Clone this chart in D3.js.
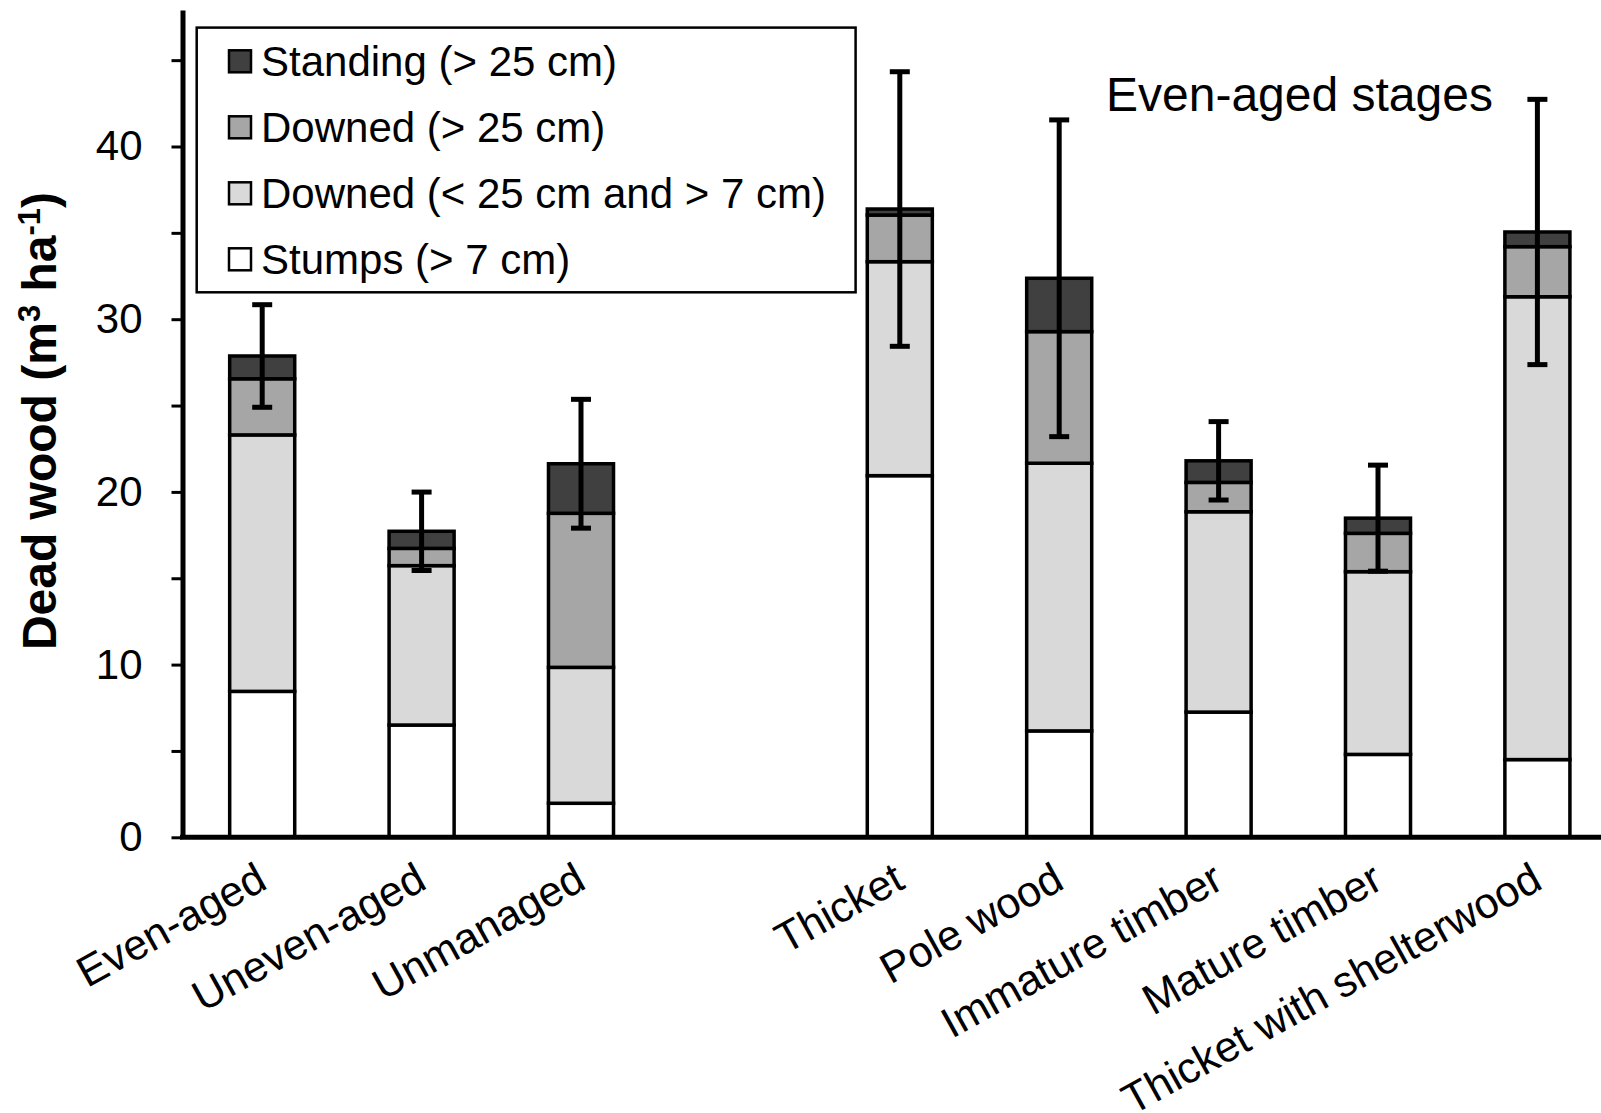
<!DOCTYPE html>
<html>
<head>
<meta charset="utf-8">
<script src="https://cdn.jsdelivr.net/npm/d3@7"></script>
<style>
  html, body { margin: 0; padding: 0; background: #fff; }
  svg { display: block; font-family: "Liberation Sans", Arial, sans-serif; }
</style>
</head>
<body>
<svg id="chart" width="1601" height="1113"></svg>
<script>
// ---- data ----
const categories = ["Even-aged", "Uneven-aged", "Unmanaged", "Thicket", "Pole wood", "Immature timber", "Mature timber", "Thicket with shelterwood"];
const stumps      = [8.45, 6.5, 1.97, 20.94, 6.16, 7.25, 4.8, 4.5];
const downedSmall = [14.85, 9.23, 7.87, 12.39, 15.5, 11.6, 10.58, 26.8];
const downedLarge = [3.25, 1.0, 8.92, 2.7, 7.62, 1.7, 2.22, 2.9];
const standing    = [1.32, 0.99, 2.87, 0.35, 3.09, 1.25, 0.88, 0.85];
const errors      = [2.97, 2.27, 3.73, 7.95, 9.17, 2.27, 3.07, 7.68];
const seriesNames = ["Standing (> 25 cm)", "Downed (> 25 cm)", "Downed (< 25 cm and > 7 cm)", "Stumps (> 7 cm)"];
const yTicks = [0, 5, 10, 15, 20, 25, 30, 35, 40, 45];
const yMax = 47.9;
const groupLabel = "Even-aged stages";

// ---- layout ----
const svg = d3.select("#chart");
const axisX = 182.5, axisY = 837.3;
const slots = [...categories.slice(0, 3), "__gap__", ...categories.slice(3)];
const x = d3.scaleBand().domain(slots).range([axisX, axisX + 9 * 159.4]).paddingInner(0.592).paddingOuter(0.296);
const y = d3.scaleLinear().domain([0, yMax]).range([axisY, axisY - 17.27 * yMax]);

const keys = ["stumps", "downedSmall", "downedLarge", "standing"];
const fills = { stumps: "#ffffff", downedSmall: "#d9d9d9", downedLarge: "#a6a6a6", standing: "#404040" };
const table = categories.map((c, i) => ({
  cat: c, stumps: stumps[i], downedSmall: downedSmall[i], downedLarge: downedLarge[i], standing: standing[i], err: errors[i]
}));
const stacked = d3.stack().keys(keys)(table);

// bars
const gBars = svg.append("g");
stacked.forEach(layer => {
  gBars.selectAll(null).data(layer).enter().append("rect")
    .attr("x", d => x(d.data.cat))
    .attr("width", x.bandwidth())
    .attr("y", d => y(d[1]))
    .attr("height", d => y(d[0]) - y(d[1]))
    .attr("fill", fills[layer.key])
    .attr("stroke", "#000")
    .attr("stroke-width", 3.5);
});

// error bars
const gErr = svg.append("g").attr("stroke", "#000");
table.forEach(d => {
  const total = d.stumps + d.downedSmall + d.downedLarge + d.standing;
  const cx = x(d.cat) + x.bandwidth() / 2;
  gErr.append("line").attr("x1", cx).attr("x2", cx)
    .attr("y1", y(total + d.err)).attr("y2", y(total - d.err)).attr("stroke-width", 5);
  [total + d.err, total - d.err].forEach(v => {
    gErr.append("line").attr("x1", cx - 10).attr("x2", cx + 10)
      .attr("y1", y(v)).attr("y2", y(v)).attr("stroke-width", 5);
  });
});

// y axis
const yAxis = svg.append("g").attr("transform", `translate(${axisX},0)`)
  .call(d3.axisLeft(y).tickValues(yTicks).tickFormat(d => d % 10 === 0 ? d : "").tickSize(11).tickSizeOuter(0).tickPadding(29));
yAxis.select(".domain").attr("stroke", "#000").attr("stroke-width", 5);
yAxis.selectAll(".tick line").attr("stroke", "#000").attr("stroke-width", 3);
yAxis.selectAll(".tick text").attr("font-size", 42).attr("fill", "#000")
  .attr("font-family", "'Liberation Sans', Arial, sans-serif");

// x axis
const xAxis = svg.append("g").attr("transform", `translate(0,${axisY})`)
  .call(d3.axisBottom(x).tickSize(0).tickFormat(d => d === "__gap__" ? "" : d));
xAxis.select(".domain").remove();
xAxis.append("line").attr("x1", axisX - 2.5).attr("x2", 1601).attr("y1", 0).attr("y2", 0)
  .attr("stroke", "#000").attr("stroke-width", 5);
xAxis.selectAll(".tick text")
  .attr("font-size", 43).attr("fill", "#000")
  .attr("font-family", "'Liberation Sans', Arial, sans-serif")
  .attr("text-anchor", "end").attr("x", 0).attr("y", 0).attr("dy", 0)
  .attr("transform", "translate(7,50) rotate(-29)");

// y title
const yt = svg.append("text")
  .attr("transform", "translate(56,421) rotate(-90)")
  .attr("text-anchor", "middle")
  .attr("font-size", 48).attr("font-weight", "bold").attr("fill", "#000");
yt.append("tspan").text("Dead wood (m");
yt.append("tspan").text("3").attr("font-size", 31).attr("baseline-shift", "16");
yt.append("tspan").text(" ha");
yt.append("tspan").text("-1").attr("font-size", 31).attr("baseline-shift", "16");
yt.append("tspan").text(")");

// group label
svg.append("text").attr("x", 1106).attr("y", 110.7).attr("font-size", 48).attr("fill", "#000").text(groupLabel);

// legend
const lg = svg.append("g");
lg.append("rect").attr("x", 196.7).attr("y", 27.6).attr("width", 658.9).attr("height", 264.7)
  .attr("fill", "#fff").attr("stroke", "#000").attr("stroke-width", 2.5);
const legendFills = [fills.standing, fills.downedLarge, fills.downedSmall, fills.stumps];
const rowY = d3.scaleLinear().domain([0, 3]).range([61.3, 259.3]);
seriesNames.forEach((name, i) => {
  const cy = rowY(i);
  lg.append("rect").attr("x", 229).attr("y", cy - 11).attr("width", 22).attr("height", 22)
    .attr("fill", legendFills[i]).attr("stroke", "#000").attr("stroke-width", 2.5);
  lg.append("text").attr("x", 261).attr("y", cy).attr("dy", "0.36em")
    .attr("font-size", 42).attr("fill", "#000").text(name);
});
</script>
</body>
</html>
